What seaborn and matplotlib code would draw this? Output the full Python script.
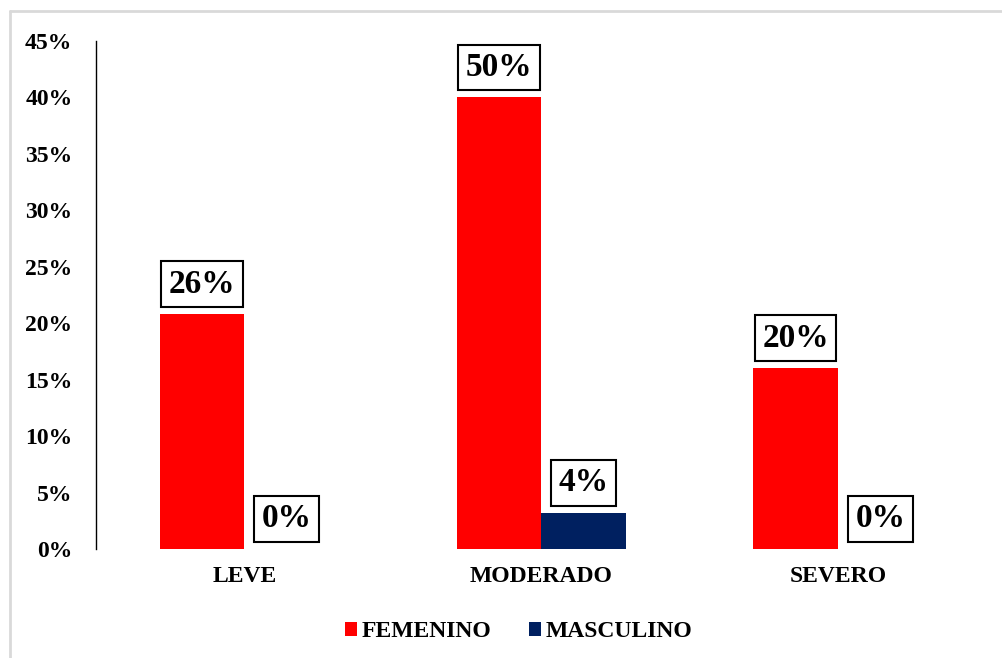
import matplotlib
matplotlib.use("Agg")
import matplotlib.pyplot as plt
from matplotlib.lines import Line2D
from matplotlib.patches import Patch
import numpy as np
import pandas as pd
import seaborn as sns

# Data
categorias = ["LEVE", "MODERADO", "SEVERO"]
series = ["FEMENINO", "MASCULINO"]
femenino = [26, 50, 20]
masculino = [0, 4, 0]
colores = ["#FF0000", "#002060"]

# Axis ticks as printed on the value axis, and the axis units used per printed percent
tick_labels = [0, 5, 10, 15, 20, 25, 30, 35, 40, 45]
unidades_por_tick = 1.25

sns.set_theme(style="white")
plt.rcParams["font.family"] = ["Liberation Serif", "DejaVu Serif"]
plt.rcParams["font.weight"] = "bold"
plt.rcParams["text.color"] = "black"
plt.rcParams["xtick.color"] = "black"
plt.rcParams["ytick.color"] = "black"

df = pd.DataFrame({
    "categoria": categorias * 2,
    "sexo": [series[0]] * 3 + [series[1]] * 3,
    "valor": femenino + masculino,
})

fig = plt.figure(figsize=(10.03, 6.58), dpi=100)
ax = fig.add_axes([0.0957, 0.1657, 0.8878, 0.772])

sns.barplot(data=df, x="categoria", y="valor", hue="sexo", order=categorias,
            hue_order=series, palette=colores, width=0.57, saturation=1,
            errorbar=None, legend=False, linewidth=0, ax=ax)

ax.set_xlim(-0.5, 2.5)
ax.set_ylim(0, tick_labels[-1] * unidades_por_tick)
ax.set_yticks([t * unidades_por_tick for t in tick_labels])
ax.set_yticklabels([f"{t}%" for t in tick_labels], fontsize=17, fontweight="bold", color="black")
ax.tick_params(axis="y", length=0, pad=17)
ax.tick_params(axis="x", length=0, pad=12)
for lab in ax.get_xticklabels():
    lab.set_fontsize(17)
    lab.set_fontweight("bold")
    lab.set_color("black")
ax.set_xlabel("")
ax.set_ylabel("")

for side in ["top", "right", "bottom"]:
    ax.spines[side].set_visible(False)
ax.spines["left"].set_color("black")
ax.spines["left"].set_linewidth(1.0)

# Value labels in boxes above each bar
for cont, vals in zip(ax.containers, [femenino, masculino]):
    for bar, v in zip(cont, vals):
        x = bar.get_x() + bar.get_width() / 2
        ax.annotate(f"{v}%", xy=(x, bar.get_height()), xytext=(0, 10.5),
                    textcoords="offset points", ha="center", va="bottom",
                    fontsize=24, fontweight="bold", color="black",
                    bbox=dict(boxstyle="square,pad=0.22", fc="white", ec="black", lw=1.5))

# Legend
handles = [Patch(facecolor=c, edgecolor="none", label=s) for c, s in zip(colores, series)]
fig.legend(handles=handles, loc="center", bbox_to_anchor=(0.517, 0.04), ncol=2,
           frameon=False, prop={"family": "Liberation Serif", "weight": "bold", "size": 17},
           handlelength=0.5, handleheight=0.5, handletextpad=0.2, columnspacing=1.6)

# Light outer frame
fig.add_artist(Line2D([10 / 1003, 10 / 1003], [0, 1 - 11 / 658], color="#d9d9d9", lw=2))
fig.add_artist(Line2D([10 / 1003, 1], [1 - 11 / 658, 1 - 11 / 658], color="#d9d9d9", lw=2))

fig.savefig("out.png", dpi=100)
